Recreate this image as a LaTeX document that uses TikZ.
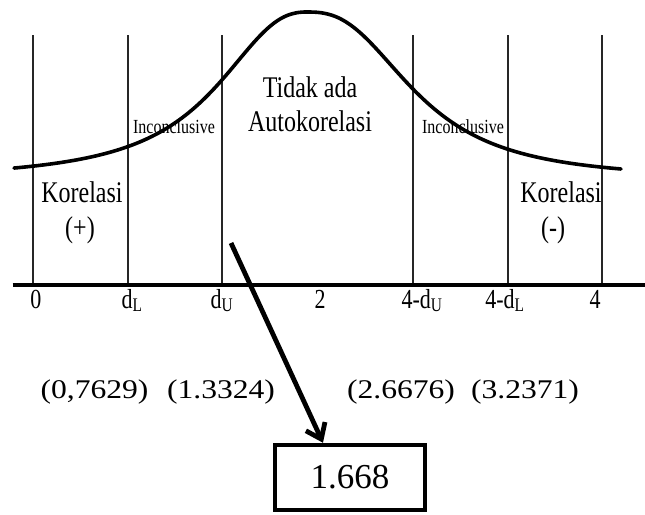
\documentclass[tikz,border=0pt]{standalone}
\usepackage{fontspec}
\usepackage{graphicx}
\setmainfont{Liberation Serif}
\usetikzlibrary{arrows.meta,calc}
\newcommand{\tallx}[1]{\scalebox{1}[1.25]{#1}}
\newcommand{\widex}[1]{\scalebox{1.17}[1]{#1}}
\begin{document}
\begin{tikzpicture}[x=1pt,y=-1pt,
  vline/.style={line width=1.1pt, black!85},
  curveline/.style={line width=3.6pt, line cap=round},
  axisline/.style={line width=4.5pt},
  lbl/.style={inner sep=0pt, anchor=base, font=\fontsize{24}{28}\selectfont},
  smalllbl/.style={inner sep=0pt, anchor=base, font=\fontsize{16}{19}\selectfont},
  ticklbl/.style={inner sep=0pt, anchor=base, font=\fontsize{22}{26}\selectfont},
  numlbl/.style={inner sep=0pt, anchor=base, font=\fontsize{27}{32}\selectfont},
  valbox/.style={draw, line width=4.5pt, minimum width=150pt, minimum height=65pt, inner sep=0pt, font=\fontsize{35}{40}\selectfont},
  pointer/.style={line width=4.8pt, -{Straight Barb[length=14pt,width=21pt]}}
]
\useasboundingbox[fill=white] (0,0) rectangle (645,514);

% vertical region lines
\foreach \xx in {33,128,222,413,508,602}
  \draw[vline] (\xx,35) -- (\xx,285);

% axis
\draw[axisline] (12.7,285) -- (645,285);

% distribution curve
\draw[curveline]
  plot[domain=14:307, samples=90] (\x, {180-168/(1+pow((abs(\x-307)+0.01)/100,2.39))})
  -- plot[domain=307:621, samples=90] (\x, {180-168/(1+pow((abs(\x-307)+0.01)/113,2.6))});

% region labels
\node[lbl] (tidak) at (310,97) {\tallx{Tidak ada}};
\node[lbl] (auto) at (310,131) {\tallx{Autokorelasi}};
\node[smalllbl] (incL) at (174,133) {\tallx{Inconclusive}};
\node[smalllbl] (incR) at (463,133) {\tallx{Inconclusive}};
\node[lbl] (korL) at (82,202) {\tallx{Korelasi}};
\node[lbl] (plus) at (80,237) {\tallx{(+)}};
\node[lbl] (korR) at (561,202) {\tallx{Korelasi}};
\node[lbl] (minus) at (553,237) {\tallx{(-)}};

% axis labels
\node[ticklbl] (t0) at (36,308) {\tallx{0}};
\node[ticklbl] (tdl) at (132,308) {\tallx{d\textsubscript{L}}};
\node[ticklbl] (tdu) at (222,308) {\tallx{d\textsubscript{U}}};
\node[ticklbl] (t2) at (320,308) {\tallx{2}};
\node[ticklbl] (t4du) at (422,308) {\tallx{4-d\textsubscript{U}}};
\node[ticklbl] (t4dl) at (505,308) {\tallx{4-d\textsubscript{L}}};
\node[ticklbl] (t4) at (595,308) {\tallx{4}};

% critical values
\node[numlbl] (v1) at (94.5,398) {\widex{(0,7629)}};
\node[numlbl] (v2) at (221,398) {\widex{(1.3324)}};
\node[numlbl] (v3) at (401,398) {\widex{(2.6676)}};
\node[numlbl] (v4) at (525,398) {\widex{(3.2371)}};

% result box and pointer
\node[valbox] (res) at (350,477.5) {1.668};
\coordinate (src) at (231,243);
\draw[pointer] (src) -- ($(res.north west)!0.325!(res.north east)$);
\end{tikzpicture}
\end{document}
